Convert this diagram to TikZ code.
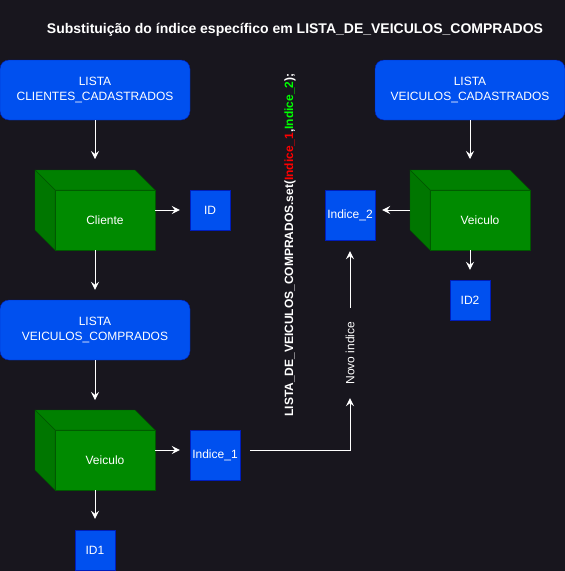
\documentclass[tikz,border=0pt]{standalone}
\usepackage{fontspec}
\setmainfont{Liberation Sans}
\usetikzlibrary{arrows.meta}
\definecolor{fundo}{RGB}{24,22,30}
\definecolor{azul}{HTML}{0050EF}
\definecolor{azulborda}{HTML}{001DBC}
\definecolor{verde}{HTML}{008A00}
\definecolor{verdetopo}{HTML}{008000}
\definecolor{verdelado}{HTML}{007600}
\definecolor{verdeborda}{HTML}{005700}
\definecolor{vermelho}{HTML}{FF0000}
\definecolor{verdeclaro}{HTML}{00FF00}
\tikzstyle{lista} = [rectangle, rounded corners=9pt,
minimum width=190pt,
minimum height=60pt, text centered, align=center,
draw=azulborda, fill=azul, text=white,
font=\fontsize{12}{15}\selectfont]
\tikzstyle{indice} = [rectangle, inner sep=0pt,
minimum width=40pt,
minimum height=40pt, text centered,
draw=azulborda, fill=azul, text=white,
font=\fontsize{12}{15}\selectfont]
\tikzstyle{cubo} = [rectangle, outer sep=0pt,
minimum width=100pt,
minimum height=60pt, text centered,
draw=verdeborda, fill=verde, text=white,
font=\fontsize{12}{15}\selectfont]
\tikzstyle{arrow} = [white, line width=1pt, ->, >={Stealth[length=8pt,width=8pt,inset=3pt]}, shorten >=10pt]

\begin{document}
\begin{tikzpicture}[x=1pt, y=-1pt]

\fill[fundo] (0,0) rectangle (565,571);
\useasboundingbox (0,0) rectangle (565,571);

\node (titulo) [text=white, font=\bfseries\fontsize{14}{17}\selectfont] at (295,30) {Substituição do índice específico em LISTA\_DE\_VEICULOS\_COMPRADOS};

% coluna da esquerda
\node (clientes) [lista] at (95,90) {LISTA\\CLIENTES\_CADASTRADOS};
\node (cliente) [cubo] at (105,220) {Cliente};
\node (id) [indice] at (210,210) {ID};
\node (compras) [lista] at (95,330) {LISTA\\VEICULOS\_COMPRADOS};
\node (veicA) [cubo] at (105,460) {Veiculo};
\node (ind1) [indice, minimum width=50pt, minimum height=50pt] at (215,455) {Indice\_1};
\node (id1) [indice] at (95,550) {ID1};

% coluna da direita
\node (veiculos) [lista] at (470,90) {LISTA\\VEICULOS\_CADASTRADOS};
\node (veicB) [cubo] at (480,220) {Veiculo};
\node (ind2) [indice, minimum width=50pt, minimum height=50pt] at (350,215) {Indice\_2};
\node (id2) [indice] at (470,300) {ID2};

\node (chamada) [rotate=90, text=white, font=\bfseries\fontsize{12}{15}\selectfont] at (290,245) {LISTA\_DE\_VEICULOS\_COMPRADOS.set({\color{vermelho}Indice\_1},{\color{verdeclaro}Indice\_2});};
\node (novo) [rotate=90, text=white, minimum width=90pt, inner sep=0pt, font=\fontsize{12}{15}\selectfont] at (350,353) {Novo indice};

% faces dos cubos
\foreach \c in {cliente, veicA, veicB} {
  \filldraw[fill=verdetopo, draw=verdeborda] (\c.north west) -- ++(-20,-20) -- ++(100,0) -- (\c.north east) -- cycle;
  \filldraw[fill=verdelado, draw=verdeborda] (\c.north west) -- ++(-20,-20) -- ++(0,60) -- (\c.south west) -- cycle;
}

\draw [arrow, shorten >=11pt] (clientes.south) -- ([xshift=-10pt, yshift=20pt]cliente.north);
\draw [arrow] ([yshift=10pt]cliente.east) -- (id.west);
\draw [arrow] ([xshift=-10pt]cliente.south) -- (compras.north);
\draw [arrow] (compras.south) -- ([xshift=-10pt, yshift=20pt]veicA.north);
\draw [arrow] ([yshift=10pt]veicA.east) -- ([yshift=5pt]ind1.west);
\draw [arrow, shorten >=11pt] ([xshift=-10pt]veicA.south) -- (id1.north);

\draw [arrow, shorten >=0pt] ([xshift=10pt, yshift=5pt]ind1.east) -| (novo.west);
\draw [arrow, shorten >=11pt] (novo.east) -- (ind2.south);

\draw [arrow, shorten >=11pt] (veiculos.south) -- ([xshift=-10pt, yshift=20pt]veicB.north);
\draw [arrow, shorten >=7pt] ([xshift=-20pt, yshift=10pt]veicB.west) -- ([yshift=5pt]ind2.east);
\draw [arrow] ([xshift=-10pt]veicB.south) -- (id2.north);

\end{tikzpicture}
\end{document}
